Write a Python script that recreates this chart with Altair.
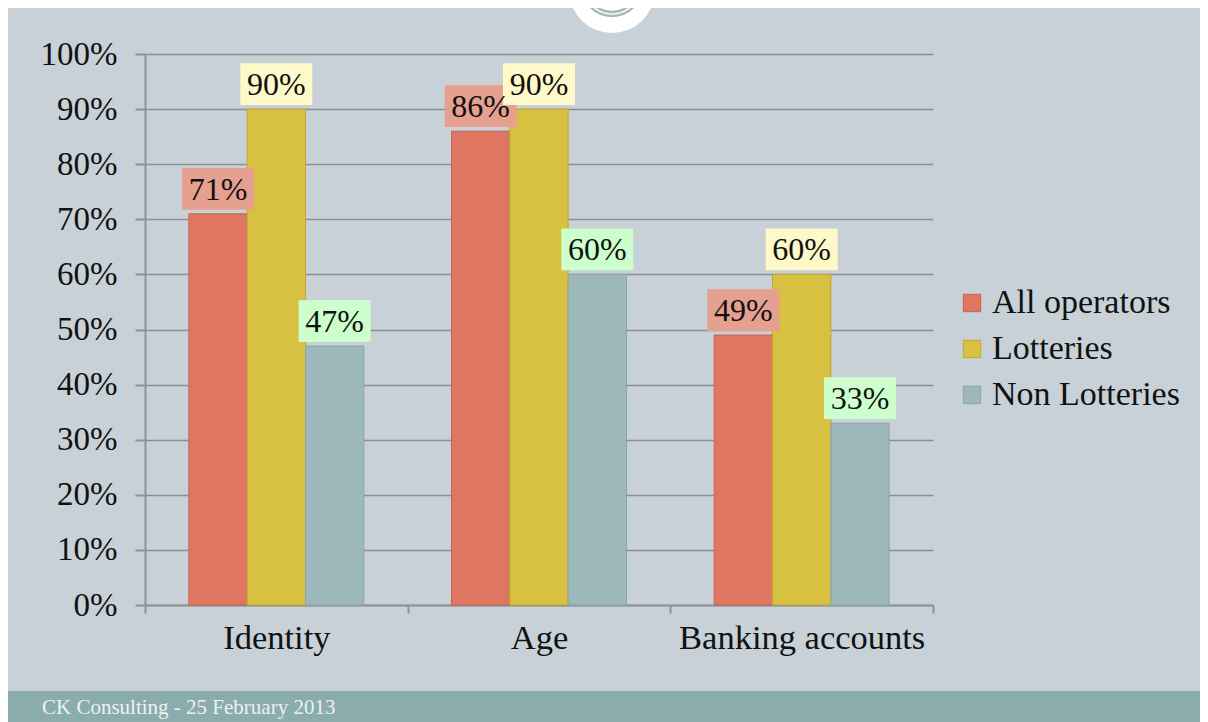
import altair as alt
import pandas as pd

categories = ["Identity", "Age", "Banking accounts"]
series = ["All operators", "Lotteries", "Non Lotteries"]
all_operators = [0.71, 0.86, 0.49]
lotteries = [0.90, 0.90, 0.60]
non_lotteries = [0.47, 0.60, 0.33]
footer_text = ["CK Consulting - 25 February 2013"]

bar_colors = ["#df7662", "#d8c041", "#9db8ba"]
bar_strokes = ["#c9624f", "#c2a82a", "#8ba5a7"]
box_colors = ["#e5a090", "#fff8c8", "#ccffcc"]

rows = []
for s, vals in zip(series, [all_operators, lotteries, non_lotteries]):
    for c, v in zip(categories, vals):
        rows.append({"category": c, "series": s, "value": v, "label": f"{round(v * 100)}%"})
df = pd.DataFrame(rows)

FONT = "Liberation Serif"

x_enc = alt.X(
    "category:N",
    sort=categories,
    scale=alt.Scale(paddingInner=0, paddingOuter=0),
    axis=alt.Axis(
        title=None,
        labelAngle=0,
        tickBand="extent",
        labelFont=FONT,
        labelFontSize=34.5,
        labelColor="#111111",
        labelPadding=8,
        labelLimit=0,
        domainColor="#8e9396",
        domainWidth=2,
        tickColor="#8e9396",
        tickWidth=2,
        tickSize=8,
        grid=False,
    ),
)
xoff_enc = alt.XOffset("series:N", sort=series, scale=alt.Scale(paddingInner=0, paddingOuter=0.7526))
y_enc = alt.Y(
    "value:Q",
    scale=alt.Scale(domain=[0, 1], nice=False),
    axis=alt.Axis(
        title=None,
        values=[i / 10 for i in range(11)],
        format=".0%",
        labelFont=FONT,
        labelFontSize=33,
        labelColor="#111111",
        labelPadding=18,
        domainColor="#8e9396",
        domainWidth=2,
        tickColor="#8e9396",
        tickWidth=2,
        tickSize=10,
        grid=True,
        gridColor="#8a8f93",
        gridWidth=1.5,
    ),
)

base = alt.Chart(df)

bars = base.mark_bar(strokeWidth=1).encode(
    x=x_enc,
    xOffset=xoff_enc,
    y=y_enc,
    color=alt.Color(
        "series:N",
        sort=series,
        scale=alt.Scale(domain=series, range=bar_colors),
        legend=alt.Legend(
            title=None,
            orient="none",
            legendX=810,
            legendY=232,
            symbolType="square",
            symbolSize=300,
            symbolStrokeWidth=1,
            labelFont=FONT,
            labelFontSize=34,
            labelColor="#111111",
            labelOffset=3,
            labelLimit=0,
            rowPadding=12,
        ),
    ),
    stroke=alt.Stroke("series:N", sort=series, scale=alt.Scale(domain=series, range=bar_strokes), legend=None),
)

box_shape = "M-1,-0.58H1V0.58H-1Z"
boxes = base.mark_point(shape=box_shape, size=5184, filled=True, opacity=1, yOffset=-25).encode(
    x=alt.X("category:N", sort=categories),
    xOffset=alt.XOffset("series:N", sort=series),
    y=alt.Y("value:Q"),
    fill=alt.Fill("series:N", sort=series, scale=alt.Scale(domain=series, range=box_colors), legend=None),
)

labels = base.mark_text(font=FONT, fontSize=32, color="#111111", baseline="middle", yOffset=-24).encode(
    x=alt.X("category:N", sort=categories),
    xOffset=alt.XOffset("series:N", sort=series),
    y=alt.Y("value:Q"),
    text="label:N",
)

footer_df = pd.DataFrame({"text": footer_text})
footer_band = alt.Chart(footer_df).mark_rect(color="#8aacac").encode(
    x=alt.value(-137), x2=alt.value(1055), y=alt.value(637), y2=alt.value(680)
)
footer_label = alt.Chart(footer_df).mark_text(
    font=FONT, fontSize=21, color="#edf2f2", align="left", baseline="alphabetic"
).encode(x=alt.value(-103), y=alt.value(660), text="text:N")

logo_df = pd.DataFrame({"k": ["logo"]})
logo_disc = alt.Chart(logo_df).mark_point(shape="circle", filled=True, opacity=1, color="white", size=7396).encode(
    x=alt.value(467), y=alt.value(-64)
)
logo_ring1 = alt.Chart(logo_df).mark_point(shape="circle", filled=False, stroke="#7f9e9c", strokeWidth=2.5, size=3600).encode(
    x=alt.value(467), y=alt.value(-68)
)
logo_ring2 = alt.Chart(logo_df).mark_point(shape="circle", filled=False, stroke="#7f9e9c", strokeWidth=2.5, size=2704).encode(
    x=alt.value(467), y=alt.value(-68)
)

chart = (
    alt.layer(footer_band, footer_label, logo_disc, logo_ring1, logo_ring2, bars, boxes, labels)
    .properties(
        width=788,
        height=551,
        autosize=alt.AutoSizeParams(type="none"),
        padding={"left": 137, "top": 46, "right": 267, "bottom": 117},
        background="#c7d1d7",
    )
    .configure_view(stroke=None)
)

chart.save("out.html", embed_options={"renderer": "svg", "actions": False})
